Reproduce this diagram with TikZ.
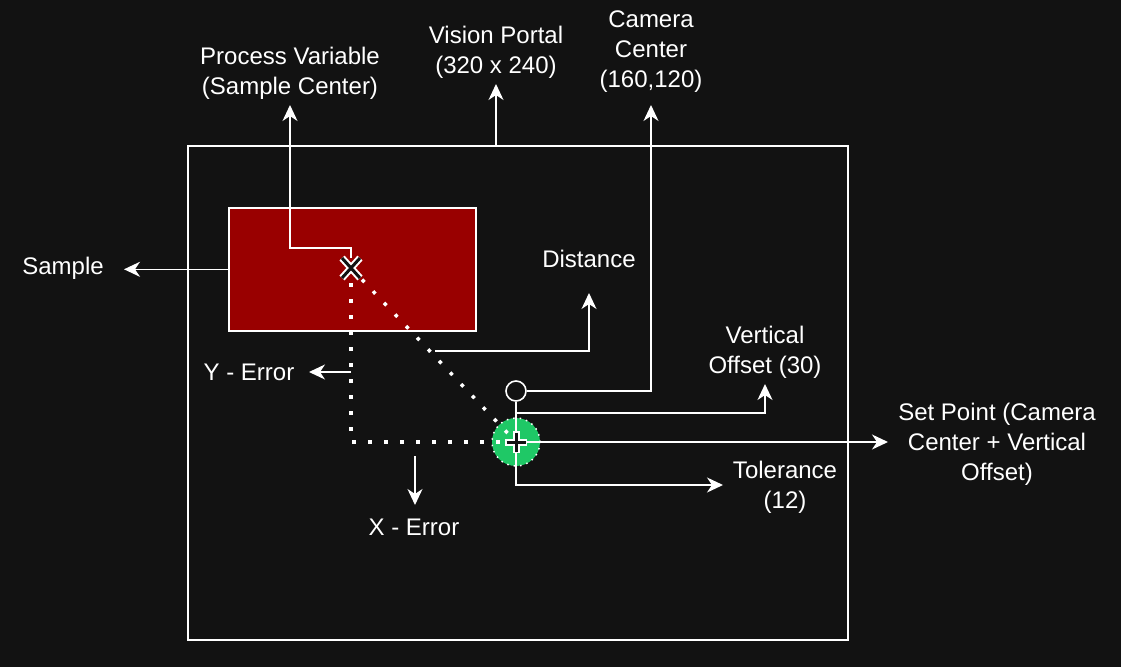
\documentclass[tikz,border=0pt]{standalone}
\usepackage{fontspec}
\setmainfont{Liberation Sans}
\usetikzlibrary{arrows.meta, positioning}
\definecolor{BgDark}{HTML}{121212}
\definecolor{SampleRed}{HTML}{990000}
\definecolor{TolGreen}{HTML}{1FC866}
\tikzset{
    % Text labels
    lbl/.style={
        text=white,
        align=center,
        inner sep=0pt,
        font=\fontsize{24}{30}\selectfont
    },
    % Boxes
    frame/.style={
        rectangle,
        draw=white,
        line width=1.6pt,
        inner sep=0pt,
        anchor=north west
    },
    marker/.style={
        circle,
        inner sep=0pt
    },
    % Lines
    arrow/.style={
        -{Stealth[length=16pt,width=15pt,inset=5pt]},
        line width=1.6pt,
        draw=white
    },
    dotline/.style={
        draw=white,
        line width=3.5pt,
        dash pattern=on 3.5pt off 12.5pt
    },
    outer/.style={draw=white, line width=7pt},
    inner/.style={draw=BgDark, line width=3pt}
}

\begin{document}
\begin{tikzpicture}[x=1pt, y=-1pt]
    \fill[BgDark] (0,0) rectangle (1121,667);

    % vision portal and sample
    \node[frame, minimum width=660pt, minimum height=494pt] (portal) at (187,145) {};
    \node[frame, fill=SampleRed, minimum width=247pt, minimum height=123pt] (sample) at (228,207) {};
    \coordinate (pv) at (351,268);
    \node[marker, draw=white, line width=1.6pt, fill=BgDark, minimum size=20pt] (cam) at (516,391) {};
    \node[marker, fill=TolGreen, minimum size=48pt] (setpt) at (516,442) {};
    \draw[white, line width=1.5pt, dash pattern=on 1.5pt off 5pt] (setpt) circle (24pt);

    % labels
    \node[lbl] (lblpv) at (290,73) {Process Variable\\(Sample Center)};
    \node[lbl] (lblvp) at (496,52) {Vision Portal\\(320 x 240)};
    \node[lbl] (lblcam) at (651,52) {Camera\\Center\\(160,120)};
    \node[lbl] (lblsample) at (63,268) {Sample};
    \node[lbl] (lbldist) at (589,259) {Distance};
    \node[lbl] (lblvo) at (765,352) {Vertical\\Offset (30)};
    \node[lbl] (lblsp) at (997,444) {Set Point (Camera\\Center + Vertical\\Offset)};
    \node[lbl] (lbltol) at (785,487) {Tolerance\\(12)};
    \node[lbl] (lbly) at (249,372) {Y - Error};
    \node[lbl] (lblx) at (414,527) {X - Error};

    % arrow ends
    \coordinate (vpfoot) at (496,145);
    \coordinate (vptip) at (496,84);
    \coordinate (pvtop) at (351,258);
    \coordinate (pvbend) at (351,248);
    \coordinate (pvtip) at (290,105);
    \coordinate (pvbot) at (351,283);
    \coordinate (camtip) at (651,105);
    \coordinate (sampletip) at (124,268);
    \coordinate (distfoot) at (435,351);
    \coordinate (disttip) at (589,293);
    \coordinate (vofoot) at (516,413);
    \coordinate (votip) at (765,384);
    \coordinate (sptip) at (888,442);
    \coordinate (toltip) at (723,485);
    \coordinate (yfoot) at (351,372);
    \coordinate (ytip) at (309,372);
    \coordinate (xfoot) at (415,456);
    \coordinate (xtip) at (415,505);

    % errors
    \draw[dotline] (pv) -- (setpt.center);
    \draw[dotline] (pvbot) |- (setpt.center);

    \draw[arrow] (vpfoot) -- (vptip);
    \draw[arrow] (pvtop) -- (pvbend) -| (pvtip);
    \draw[arrow] (cam.east) -| (camtip);
    \draw[arrow] (sample.west) -- (sample.west -| sampletip);
    \draw[arrow] (distfoot) -| (disttip);
    \draw[arrow] (cam.south) |- (toltip);
    \draw[arrow] (vofoot) -| (votip);
    \draw[arrow] (setpt.center) -- (sptip);
    \draw[arrow] (yfoot) -- (ytip);
    \draw[arrow] (xfoot) -- (xtip);

    % cross marks
    \draw[outer] (pv) ++(-9,-10) -- ++(18,20) (pv) ++(9,-10) -- ++(-18,20);
    \draw[inner] (pv) ++(-9,-10) -- ++(18,20) (pv) ++(9,-10) -- ++(-18,20);
    \draw[outer] (setpt.center) ++(-11,0) -- ++(22,0) (setpt.center) ++(0,-11) -- ++(0,22);
    \draw[inner] (setpt.center) ++(-9.5,0) -- ++(19,0) (setpt.center) ++(0,-9.5) -- ++(0,19);
\end{tikzpicture}
\end{document}
